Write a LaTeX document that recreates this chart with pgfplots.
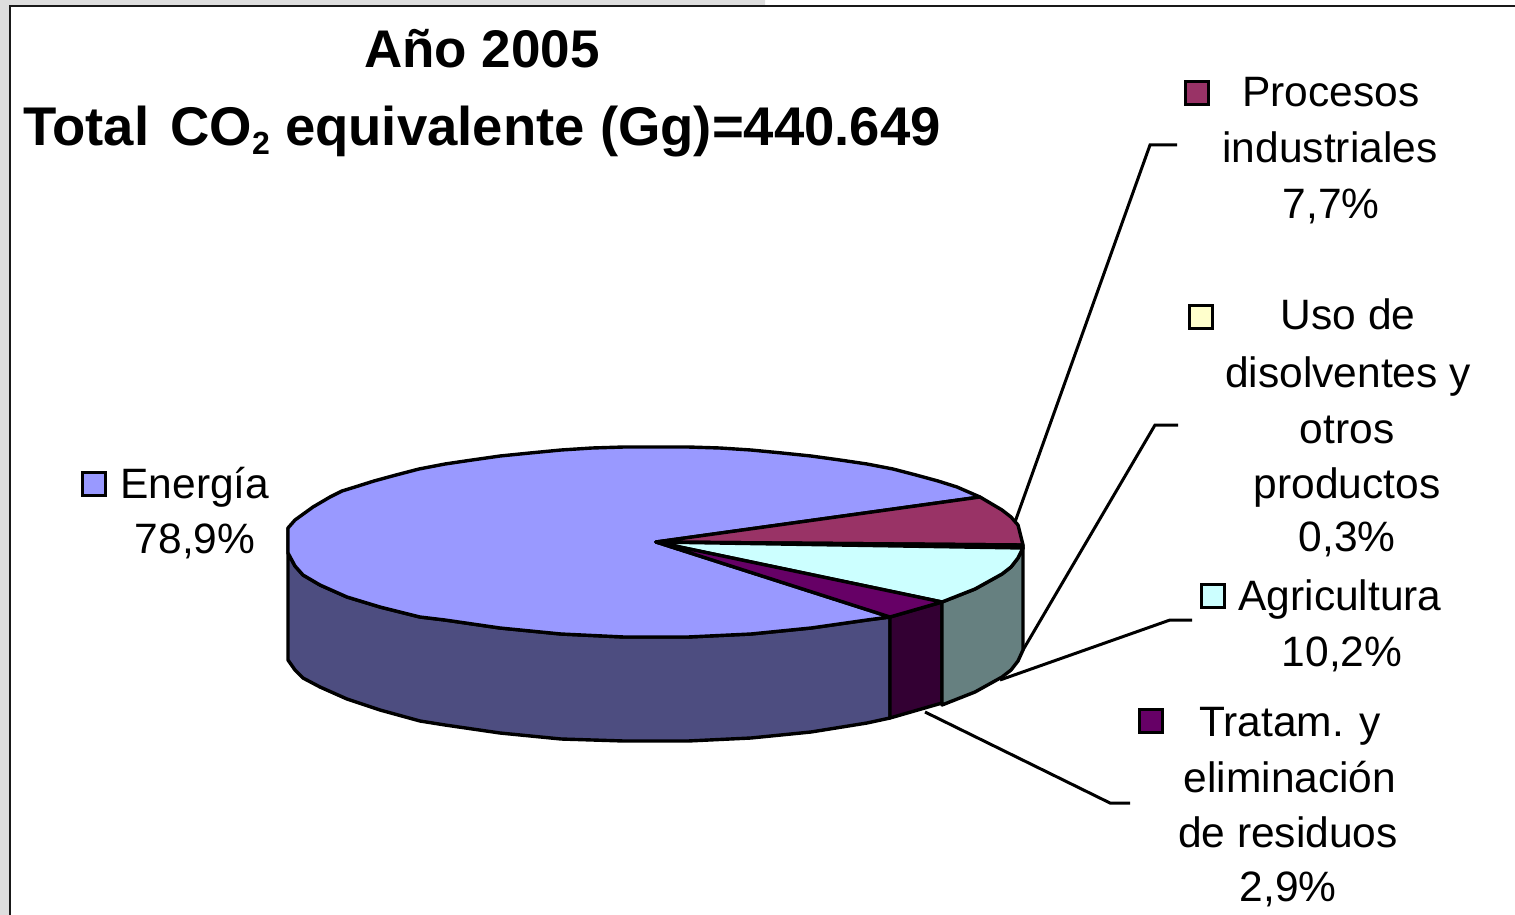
\documentclass[border=0pt]{standalone}
\usepackage{fontspec}
\setmainfont{Liberation Sans}
\usepackage{pgfplots}
\pgfplotsset{compat=1.18}
\definecolor{energia}{HTML}{9999FF}
\definecolor{energiaside}{HTML}{4D4D80}
\definecolor{procesos}{HTML}{993366}
\definecolor{uso}{HTML}{FFFFCC}
\definecolor{agri}{HTML}{CCFFFF}
\definecolor{agriside}{HTML}{668080}
\definecolor{tratam}{HTML}{660066}
\definecolor{tratamside}{HTML}{330033}
\definecolor{marco}{HTML}{DEDEDE}
\newcommand{\lab}{\fontsize{42.5}{42.5}\selectfont}
\newcommand{\tita}{\fontsize{53}{53}\selectfont\bfseries}
\newcommand{\titb}{\fontsize{54.5}{54.5}\selectfont\bfseries}
\tikzset{slice/.style={draw=black,line width=3.4pt,line join=round}}
\begin{document}
\begin{tikzpicture}
\begin{axis}[
  at={(0,0)},anchor=south west,
  scale only axis,width=1515pt,height=915pt,
  xmin=0,xmax=1515,ymin=0,ymax=915,y dir=reverse,
  axis lines=none,clip=true]
% frame
\addplot[draw=none,fill=marco] coordinates {(0,0)(765,0)(765,6)(10,6)(10,915)(0,915)} -- cycle;
\addplot[draw=black!90,line width=2.5pt] coordinates {(1515,6)(10,6)(10,915)};
% sides
\addplot[slice,fill=energiaside] coordinates {(288,528)(288,553)(295,566)(303,575)(320,585)(347,597)(380,607)(420,617)(445,620)(500,628)(561,634)(624,637)(688,637)(751,634)(811,628)(867,620)(890,617)(890,718)(867,723)(811,732)(751,738)(688,741)(624,741)(561,739)(500,733)(445,725)(420,721)(380,710)(347,699)(320,687)(303,678)(295,670)(288,660)} -- cycle;
\addplot[slice,fill=tratamside] coordinates {(890,617)(942,602)(942,703)(890,718)} -- cycle;
\addplot[slice,fill=agriside] coordinates {(942,602)(975,589)(1002,574)(1011,567)(1018,558)(1023,546)(1023,650)(1018,661)(1011,670)(1002,677)(975,692)(942,705)} -- cycle;
% top
\addplot[slice,fill=energia] coordinates {(656,542)(980,497)(957,487)(938,481)(916,475)(893,469)(867,464)(840,460)(811,456)(782,453)(751,450)(720,448)(688,447)(656,447)(624,447)(592,448)(561,450)(530,453)(500,456)(472,460)(445,464)(419,469)(396,475)(374,481)(355,487)(342,491)(330,497)(313,507)(295,520)(288,528)(288,553)(295,566)(303,575)(320,585)(347,597)(380,607)(420,617)(445,620)(500,628)(561,634)(624,637)(688,637)(751,634)(811,628)(867,620)(890,617)} -- cycle;
\addplot[slice,fill=procesos] coordinates {(656,542)(980,497)(1002,510)(1011,517)(1018,525)(1023,545)} -- cycle;
\addplot[slice,fill=uso] coordinates {(656,542)(1023,545)(1023,548)} -- cycle;
\addplot[slice,fill=agri] coordinates {(656,542)(1023,548)(1018,558)(1011,567)(1002,574)(975,589)(942,602)} -- cycle;
\addplot[slice,fill=tratam] coordinates {(656,542)(942,602)(890,617)} -- cycle;
% leaders
\addplot[black,line width=3pt] coordinates {(1015,522)(1150,145)(1177,145)};
\addplot[black,line width=3pt] coordinates {(1023,650)(1155,425)(1178,425)};
\addplot[black,line width=3pt] coordinates {(1000,680)(1170,620)(1192,620)};
\addplot[black,line width=3pt] coordinates {(925,712)(1110,803)(1130,803)};
% legend keys
\addplot[only marks,mark=square*,mark size=11.5pt,mark options={draw=black,line width=3pt,fill=energia}] coordinates {(94,484)};
\addplot[only marks,mark=square*,mark size=11.5pt,mark options={draw=black,line width=3pt,fill=procesos}] coordinates {(1197,93)};
\addplot[only marks,mark=square*,mark size=11.5pt,mark options={draw=black,line width=3pt,fill=uso}] coordinates {(1201,317)};
\addplot[only marks,mark=square*,mark size=11.5pt,mark options={draw=black,line width=3pt,fill=agri}] coordinates {(1213,596)};
\addplot[only marks,mark=square*,mark size=11.5pt,mark options={draw=black,line width=3pt,fill=tratam}] coordinates {(1151,721)};
% title
\node[anchor=base,inner sep=0pt] at (axis cs:482,68) {\tita Año 2005};
\node[anchor=base,inner sep=0pt] at (axis cs:482,146) {\titb Total\kern6pt\ CO\raisebox{-9pt}{\fontsize{32}{32}\selectfont 2} equivalente (Gg)=440.649};
% labels
\node[anchor=base,inner sep=0pt] at (axis cs:195,498) {\lab Energía};
\node[anchor=base,inner sep=0pt] at (axis cs:195,553) {\lab 78,9\%};
\node[anchor=base,inner sep=0pt] at (axis cs:1331,107) {\lab Procesos};
\node[anchor=base,inner sep=0pt] at (axis cs:1330,163) {\lab industriales};
\node[anchor=base,inner sep=0pt] at (axis cs:1331,218) {\lab 7,7\%};
\node[anchor=base,inner sep=0pt] at (axis cs:1348,329) {\lab Uso de};
\node[anchor=base,inner sep=0pt] at (axis cs:1348,387) {\lab disolventes y};
\node[anchor=base,inner sep=0pt] at (axis cs:1347,443) {\lab otros};
\node[anchor=base,inner sep=0pt] at (axis cs:1347,498) {\lab productos};
\node[anchor=base,inner sep=0pt] at (axis cs:1347,551) {\lab 0,3\%};
\node[anchor=base,inner sep=0pt] at (axis cs:1340,610) {\lab Agricultura};
\node[anchor=base,inner sep=0pt] at (axis cs:1342,666) {\lab 10,2\%};
\node[anchor=base,inner sep=0pt] at (axis cs:1290,736) {\lab Tratam. y};
\node[anchor=base,inner sep=0pt] at (axis cs:1290,792) {\lab eliminación};
\node[anchor=base,inner sep=0pt] at (axis cs:1288,847) {\lab de residuos};
\node[anchor=base,inner sep=0pt] at (axis cs:1288,901) {\lab 2,9\%};
\end{axis}
\end{tikzpicture}
\end{document}
